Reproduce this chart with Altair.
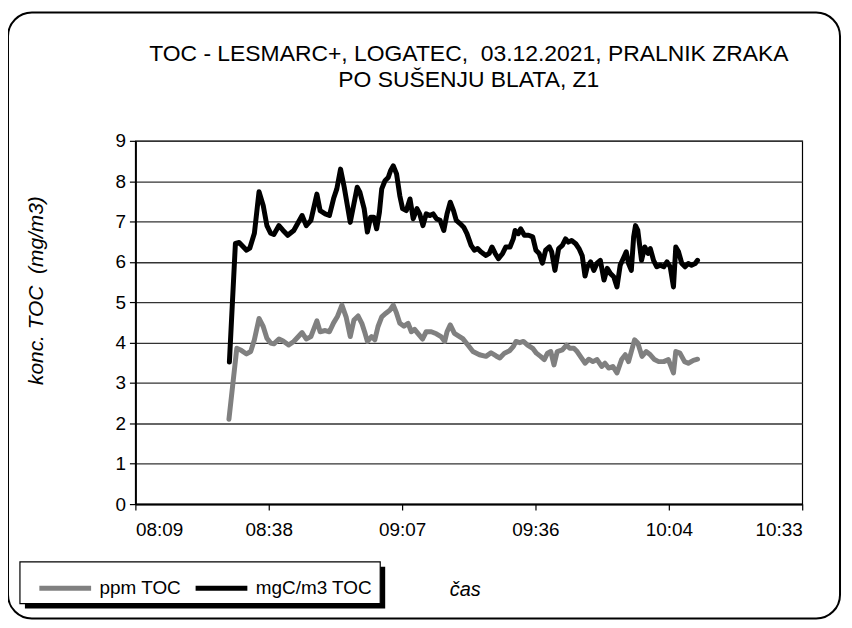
import altair as alt
import pandas as pd

# time in minutes after midnight, values in mg/m3 / ppm
black_t = [509.9, 511.2, 512.0, 513.6, 514.3, 515.3, 516.3, 517.2, 518.0, 518.8, 519.5, 520.6,
           521.5, 522.5, 523.8, 525.6, 526.5, 527.5, 528.8, 529.5, 530.6, 531.5, 532.4, 533.1,
           533.9, 534.7, 535.3, 536.0, 537.5, 538.1, 539.0, 539.7, 540.4, 541.1, 541.7, 542.3,
           542.8, 543.5, 544.2, 544.7, 545.3, 546.0, 546.7, 547.3, 548.1, 548.9, 549.6, 550.4,
           551.0, 551.7, 552.4, 553.2, 553.9, 554.6, 555.4, 556.2, 556.9, 557.6, 558.3, 558.9,
           559.7, 560.5, 561.2, 562.1, 562.8, 563.5, 564.2, 565.3, 566.0, 566.6, 567.3, 568.0,
           568.9, 569.6, 570.5, 571.2, 571.6, 572.3, 572.8, 573.6, 574.5, 575.4, 576.1, 576.8,
           577.5, 578.2, 579.0, 579.5, 580.2, 581.0, 581.8, 582.5, 583.1, 583.8, 584.7, 585.4,
           586.1, 586.7, 587.2, 587.9, 588.6, 589.3, 590.0, 590.8, 591.5, 592.2, 592.9, 593.6,
           594.3, 595.1, 595.6, 596.1, 596.7, 597.2, 597.6, 598.1, 598.9, 599.6, 600.3, 600.8,
           601.5, 602.2, 602.9, 603.7, 604.4, 605.1, 605.8, 606.3, 606.9, 607.6, 608.3, 609.0,
           609.7, 610.5, 611.0]
black_v = [3.52, 6.46, 6.48, 6.29, 6.34, 6.71, 7.74, 7.40, 6.90, 6.71, 6.68, 6.90,
           6.78, 6.66, 6.78, 7.15, 6.90, 7.03, 7.68, 7.27, 7.19, 7.15, 7.57, 7.81,
           8.30, 7.85, 7.45, 6.98, 7.85, 7.72, 7.32, 6.74, 7.11, 7.11, 6.82, 7.23,
           7.81, 8.01, 8.09, 8.26, 8.38, 8.18, 7.64, 7.32, 7.27, 7.56, 7.07, 7.32,
           7.19, 6.90, 7.19, 7.15, 7.19, 7.07, 7.03, 6.78, 7.19, 7.48, 7.27, 7.03,
           6.95, 6.86, 6.70, 6.41, 6.29, 6.33, 6.25, 6.16, 6.21, 6.37, 6.21, 6.08,
           6.21, 6.37, 6.37, 6.57, 6.78, 6.70, 6.82, 6.66, 6.66, 6.62, 6.29, 6.21,
           5.97, 6.29, 6.37, 6.25, 5.79, 6.33, 6.41, 6.57, 6.49, 6.53, 6.45, 6.33,
           6.15, 5.65, 5.88, 6.00, 5.79, 5.97, 6.04, 5.55, 5.84, 5.71, 5.63, 5.38,
           5.92, 6.12, 6.25, 5.96, 5.79, 6.62, 6.90, 6.78, 6.04, 6.37, 6.21, 6.33,
           6.04, 5.88, 5.92, 5.88, 6.00, 5.88, 5.38, 6.37, 6.25, 5.96, 5.88, 5.96,
           5.92, 5.96, 6.04]

gray_t = [509.8, 511.5, 512.3, 513.6, 514.5, 515.3, 516.3, 517.2, 518.0, 518.8, 519.5, 520.6,
          521.5, 522.7, 523.8, 525.6, 526.5, 527.5, 528.8, 529.5, 530.6, 531.5, 532.4, 533.2,
          534.2, 535.1, 536.0, 536.8, 537.7, 538.5, 539.2, 539.7, 540.6, 541.3, 542.0, 542.8,
          543.7, 544.6, 545.3, 546.0, 546.7, 547.6, 548.5, 549.2, 549.9, 550.6, 551.6, 552.4,
          553.5, 554.6, 555.6, 556.4, 556.9, 557.6, 558.5, 559.6, 560.3, 561.4, 562.5, 563.9,
          565.3, 566.4, 567.5, 568.3, 569.3, 570.4, 571.2, 571.8, 572.6, 573.4, 574.3, 575.4,
          576.2, 577.1, 577.9, 578.6, 579.3, 580.0, 580.7, 581.8, 582.7, 583.4, 584.3, 585.0,
          585.7, 586.7, 587.5, 588.4, 589.3, 590.3, 591.0, 591.8, 592.7, 593.6, 594.6, 595.4,
          596.1, 596.8, 597.4, 598.1, 599.0, 599.9, 600.8, 601.7, 602.6, 603.7, 604.7, 605.8,
          606.3, 607.2, 608.2, 609.0, 610.1, 611.0]
gray_v = [2.10, 3.86, 3.82, 3.72, 3.78, 4.07, 4.60, 4.40, 4.11, 3.99, 3.97, 4.09,
          4.04, 3.94, 4.03, 4.25, 4.09, 4.15, 4.54, 4.27, 4.30, 4.27, 4.49, 4.64,
          4.93, 4.64, 4.15, 4.56, 4.66, 4.48, 4.23, 4.03, 4.15, 4.07, 4.40, 4.64,
          4.73, 4.81, 4.93, 4.73, 4.48, 4.41, 4.48, 4.27, 4.33, 4.23, 4.09, 4.27,
          4.27, 4.22, 4.15, 4.03, 4.27, 4.44, 4.23, 4.15, 4.10, 3.94, 3.78, 3.70,
          3.66, 3.75, 3.67, 3.62, 3.74, 3.80, 3.90, 4.03, 4.00, 4.03, 3.94, 3.86,
          3.74, 3.66, 3.58, 3.74, 3.78, 3.45, 3.78, 3.82, 3.94, 3.86, 3.86, 3.78,
          3.66, 3.49, 3.59, 3.53, 3.58, 3.41, 3.49, 3.37, 3.41, 3.25, 3.58, 3.70,
          3.53, 3.82, 4.07, 3.99, 3.66, 3.78, 3.70, 3.58, 3.53, 3.53, 3.58, 3.25,
          3.78, 3.74, 3.53, 3.49, 3.56, 3.59]

series_names = ["ppm TOC", "mgC/m3 TOC"]
series_colors = ["#808080", "#000000"]
x_ticks = [489.6, 518.4, 547.2, 576.0, 604.8, 633.6]
y_ticks = [0, 1, 2, 3, 4, 5, 6, 7, 8, 9]

title_lines = ["TOC - LESMARC+, LOGATEC, \u00a003.12.2021, PRALNIK ZRAKA", "PO SUŠENJU BLATA, Z1"]
y_title = "konc. TOC \u00a0(mg/m3)"
x_title = "čas"

df = pd.concat([
    pd.DataFrame({"t": gray_t, "v": gray_v, "s": series_names[0]}),
    pd.DataFrame({"t": black_t, "v": black_v, "s": series_names[1]}),
])

FONT = "Liberation Sans"
W, H = 670, 365

one = pd.DataFrame({"a": [0]})

border = alt.Chart(one).mark_rect(
    fill="white", fillOpacity=0, stroke="#000", strokeWidth=2, cornerRadius=24
).encode(x=alt.value(-128), x2=alt.value(708), y=alt.value(-129), y2=alt.value(480))

leg_shadow = alt.Chart(one).mark_rect(fill="#000").encode(
    x=alt.value(-111), x2=alt.value(251), y=alt.value(428), y2=alt.value(470))
leg_box = alt.Chart(one).mark_rect(fill="white", stroke="#000", strokeWidth=1.2).encode(
    x=alt.value(-116), x2=alt.value(246), y=alt.value(423), y2=alt.value(465))

label_expr = ("(floor(datum.value/60) < 10 ? '0' : '') + floor(datum.value/60) + ':' + "
              "(floor(datum.value % 60) < 10 ? '0' : '') + floor(datum.value % 60)")

lines = alt.Chart(df).mark_line(strokeWidth=5, strokeCap="round", strokeJoin="round").encode(
    x=alt.X("t:Q", scale=alt.Scale(domain=[489.6, 633.6], nice=False, zero=False),
            axis=alt.Axis(values=x_ticks, labelExpr=label_expr, grid=False, title=x_title,
                          titleX=331, titleY=76, titleFontStyle="italic", titleFontWeight="normal",
                          titleFontSize=20, labelFontSize=19, labelPadding=11, tickSize=6,
                          domainColor="#000", domainWidth=2, tickColor="#000", tickWidth=1.2,
                          labelColor="#000", titleColor="#000")),
    y=alt.Y("v:Q", scale=alt.Scale(domain=[0, 9], nice=False),
            axis=alt.Axis(values=y_ticks, format="d", grid=True, gridColor="#333", gridWidth=1.3,
                          title=y_title, titleX=-89, titleY=150, titleAlign="center",
                          titleFontStyle="italic", titleFontWeight="normal", titleFontSize=21,
                          labelFontSize=19, labelPadding=4, tickSize=6, domainColor="#000",
                          domainWidth=2, tickColor="#000", tickWidth=1.2,
                          labelColor="#000", titleColor="#000")),
    color=alt.Color("s:N", scale=alt.Scale(domain=series_names, range=series_colors),
                    legend=alt.Legend(orient="none", legendX=-99, legendY=421, direction="horizontal",
                                      title=None, symbolType="stroke", symbolSize=2704,
                                      symbolStrokeWidth=5, labelFontSize=19, labelOffset=6,
                                      columnPadding=3, gridAlign="none",
                                      labelColor="#000", padding=0)),
    detail="s:N",
)

chart = alt.layer(border, leg_shadow, leg_box, lines).properties(
    width=W, height=H,
    title=alt.TitleParams(title_lines, fontSize=23, font=FONT, fontWeight="normal", anchor="middle",
                          frame="group", offset=-81, color="#000", lineHeight=26),
    autosize=alt.AutoSizeParams(type="none"),
    padding={"left": 128, "top": 132, "right": 42, "bottom": 117},
).configure(font=FONT).configure_view(stroke="#000", strokeWidth=1.2)

chart.save("out.html", embed_options={"renderer": "svg", "actions": False})
